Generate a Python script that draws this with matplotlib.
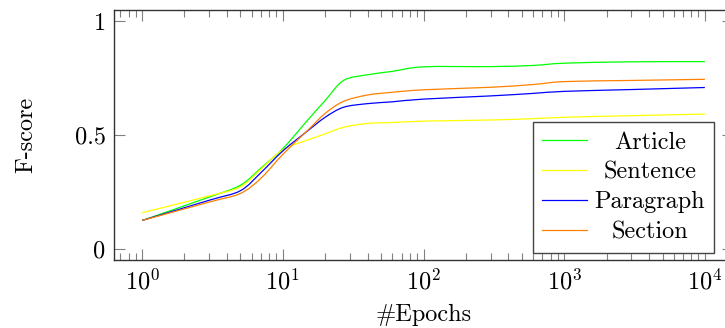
import numpy as np
import matplotlib
matplotlib.use("Agg")
import matplotlib.pyplot as plt
from matplotlib.path import Path
from matplotlib.patches import PathPatch
from matplotlib.lines import Line2D
from matplotlib.ticker import LogLocator, LogFormatterMathtext, FixedLocator, FixedFormatter

plt.rcParams['font.family'] = ['cmr10', 'DejaVu Serif']
plt.rcParams['mathtext.fontset'] = 'cm'
plt.rcParams['axes.formatter.use_mathtext'] = True

epochs = [1, 3, 5, 7, 10, 15, 20, 27, 40, 60, 100, 300, 600, 1000, 3000, 10000]
article = [0.124, 0.227, 0.279, 0.355, 0.44, 0.565, 0.652, 0.74, 0.765, 0.78, 0.80, 0.801, 0.806, 0.816, 0.822, 0.823]
sentence = [0.158, 0.232, 0.272, 0.35, 0.435, 0.478, 0.505, 0.534, 0.551, 0.555, 0.561, 0.566, 0.572, 0.578, 0.585, 0.592]
paragraph = [0.124, 0.213, 0.255, 0.335, 0.43, 0.518, 0.578, 0.622, 0.638, 0.646, 0.658, 0.672, 0.683, 0.692, 0.70, 0.709]
section = [0.124, 0.205, 0.243, 0.31, 0.415, 0.52, 0.595, 0.648, 0.676, 0.688, 0.699, 0.71, 0.722, 0.735, 0.74, 0.745]

names = ["Article", "Sentence", "Paragraph", "Section"]
colors = ["#00ff00", "#ffff00", "#0000ff", "#ff8000"]
yticks = [0, 0.5, 1]
ytick_labels = ["0", "0.5", "1"]

FS = 17.5


def smooth_path(xs, ys, k=0.16):
    # pgfplots-like smooth: bezier segments, tangents from neighbours (in log-x space)
    lx = np.log10(np.asarray(xs, float))
    y = np.asarray(ys, float)
    n = len(lx)
    verts = [(lx[0], y[0])]
    codes = [Path.MOVETO]
    for i in range(n - 1):
        a = max(i - 1, 0)
        b = min(i + 2, n - 1)
        c1 = (lx[i] + k * (lx[i + 1] - lx[a]), y[i] + k * (y[i + 1] - y[a]))
        c2 = (lx[i + 1] - k * (lx[b] - lx[i]), y[i + 1] - k * (y[b] - y[i]))
        verts += [c1, c2, (lx[i + 1], y[i + 1])]
        codes += [Path.CURVE4] * 3
    v = np.array(verts)
    v[:, 0] = 10 ** v[:, 0]
    return Path(v, codes)


fig = plt.figure(figsize=(7.25, 3.28), dpi=100)
ax = fig.add_axes([114 / 725, 1 - 260 / 328, 619 / 725, 250 / 328])

ax.set_xscale("log")
ax.set_xlim(10 ** -0.2, 10 ** 4.2)
ax.set_ylim(-0.05, 1.05)

handles = []
for vals, name, c in zip([article, sentence, paragraph, section], names, colors):
    ax.add_patch(PathPatch(smooth_path(epochs, vals), facecolor="none", edgecolor=c, lw=0.9))
    handles.append(Line2D([], [], color=c, lw=0.9, label=name))

ax.xaxis.set_major_locator(LogLocator(base=10, numticks=10))
ax.xaxis.set_minor_locator(LogLocator(base=10, subs=np.arange(2, 10), numticks=20))
ax.xaxis.set_major_formatter(LogFormatterMathtext())
ax.yaxis.set_major_locator(FixedLocator(yticks))
ax.yaxis.set_major_formatter(FixedFormatter(ytick_labels))

ax.tick_params(which="both", direction="in", top=True, right=True, colors="#808080",
               labelcolor="black", labelsize=FS, width=0.8)
ax.tick_params(which="major", length=8, pad=6)
ax.tick_params(which="minor", length=5)
for s in ax.spines.values():
    s.set_linewidth(1.0)
    s.set_color("#333333")

ax.set_xlabel("#Epochs", fontsize=FS, labelpad=7)
ax.set_ylabel("F-score", fontsize=FS, labelpad=27)

leg = ax.legend(handles=handles, loc="lower right", bbox_to_anchor=(0.97, 0.03), borderaxespad=0,
                fontsize=FS, frameon=True, fancybox=False, framealpha=1,
                edgecolor="#444444", handlelength=1.85, handletextpad=0.3,
                labelspacing=0.32, borderpad=0.38)
leg.get_frame().set_linewidth(1.0)

# centre the legend labels like pgfplots does
fig.canvas.draw()
r = fig.canvas.get_renderer()
widths = [t.get_window_extent(r).width for t in leg.get_texts()]
wmax = max(widths)
for t, w in zip(leg.get_texts(), widths):
    t.set_position(((wmax - w) / 2, 0))

fig.savefig("out.png", dpi=100)
